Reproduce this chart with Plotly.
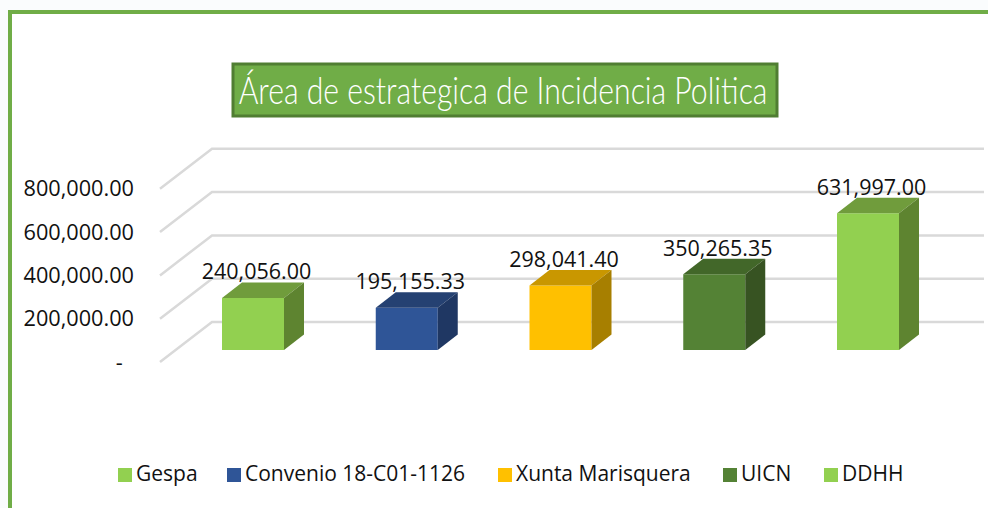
import plotly.graph_objects as go

categories = ["Gespa", "Convenio 18-C01-1126", "Xunta Marisquera", "UICN", "DDHH"]
values = [240056.00, 195155.33, 298041.40, 350265.35, 631997.00]
value_labels = ["240,056.00", "195,155.33", "298,041.40", "350,265.35", "631,997.00"]
tick_values = [0, 200000, 400000, 600000, 800000]
tick_labels = ["-\u00a0\u00a0", "200,000.00", "400,000.00", "600,000.00", "800,000.00"]
front_colors = ["#92d050", "#2f5597", "#ffc000", "#548235", "#92d050"]
top_colors = ["#709c3c", "#254172", "#c99700", "#426729", "#709c3c"]
side_colors = ["#5e8430", "#1f3763", "#a77f00", "#375322", "#5e8430"]
title_text = "Área de estrategica de Incidencia Politica"

W, H = 988, 508
X0_PX, X_STEP = 253.0, 153.75     # pixel centre of the first bar, pixels per category
Y0_PX, Y_SCALE = 362.0, 43.3 / 200000  # pixel of value 0, pixels per value unit


def dx(px):
    return px / X_STEP


def dy(px):
    return px / Y_SCALE


def xp(px):
    return (px - X0_PX) / X_STEP


def yp(px):
    return (Y0_PX - px) / Y_SCALE


FLOOR = dy(12)
BAR_W = 62 / X_STEP
DEPTH_X, DEPTH_Y = dx(20), dy(15.5)

fig = go.Figure()

# front faces
for i, (name, v) in enumerate(zip(categories, values)):
    fig.add_trace(go.Bar(x=[i], y=[v], base=[FLOOR], width=BAR_W, name=name,
                         marker=dict(color=front_colors[i], line=dict(width=0)),
                         showlegend=False, hoverinfo="name+y"))

# top and side faces, projected from the same values
for i, v in enumerate(values):
    left, right = i - BAR_W / 2, i + BAR_W / 2
    top, bottom = FLOOR + v, FLOOR
    fig.add_trace(go.Scatter(
        x=[left, right, right + DEPTH_X, left + DEPTH_X, left],
        y=[top, top, top + DEPTH_Y, top + DEPTH_Y, top],
        fill="toself", fillcolor=top_colors[i], mode="lines", line=dict(width=0),
        showlegend=False, hoverinfo="skip"))
    fig.add_trace(go.Scatter(
        x=[right, right + DEPTH_X, right + DEPTH_X, right, right],
        y=[bottom, bottom + DEPTH_Y, top + DEPTH_Y, top, bottom],
        fill="toself", fillcolor=side_colors[i], mode="lines", line=dict(width=0),
        showlegend=False, hoverinfo="skip"))

# value labels
fig.add_trace(go.Scatter(
    x=[i + dx(3.5) for i in range(len(values))],
    y=[FLOOR + v + dy(24) for v in values],
    text=value_labels, mode="text", textposition="middle center",
    textfont=dict(family="Open Sans", size=21.5, color="#111111"),
    showlegend=False, hoverinfo="skip"))

# legend row
legend_px = [125, 234, 505, 730, 831]
for i, name in enumerate(categories):
    fig.add_trace(go.Scatter(
        x=[xp(legend_px[i])], y=[yp(475)], mode="markers",
        marker=dict(symbol="square", size=14, color=front_colors[i], line=dict(width=0)),
        showlegend=False, hoverinfo="skip"))
    fig.add_trace(go.Scatter(
        x=[xp(legend_px[i] + 11)], y=[yp(476)], text=[name], mode="text",
        textposition="middle right",
        textfont=dict(family="Open Sans", size=21, color="#111111"),
        showlegend=False, hoverinfo="skip"))

# page: faint tinted sheet, green frame, white panel, title box
shapes = [
    dict(type="rect", xref="paper", yref="paper", layer="below",
         x0=10 / W, x1=1.05, y0=-0.05, y1=1 - 12 / H,
         fillcolor="white", line=dict(color="#70ad47", width=4)),
    dict(type="rect", xref="paper", yref="paper", layer="below",
         x0=233 / W, x1=777 / W, y0=1 - 116 / H, y1=1 - 64 / H,
         fillcolor="#70ad47", line=dict(color="#507e32", width=3)),
]

# walls and gridlines
for t in tick_values:
    shapes.append(dict(type="path", xref="x", yref="y", layer="below",
                       path=f"M {xp(160)} {t} L {xp(212)} {t + dy(40)} L {xp(984)} {t + dy(40)}",
                       line=dict(color="#d9d9d9", width=2.5)))

fig.update_layout(
    width=W, height=H, autosize=False,
    margin=dict(l=0, r=0, t=0, b=0),
    paper_bgcolor="#fafcfd", plot_bgcolor="rgba(0,0,0,0)",
    barmode="overlay", showlegend=False, shapes=shapes,
    xaxis=dict(range=[xp(0), xp(W)], visible=False, domain=[0, 1], fixedrange=True),
    yaxis=dict(range=[yp(H), yp(0)], anchor="free", position=134 / W,
               tickmode="array", tickvals=tick_values, ticktext=tick_labels,
               showgrid=False, zeroline=False, showline=False, ticks="", automargin=False,
               tickfont=dict(family="Open Sans", size=21.7, color="#111111"), fixedrange=True),
    annotations=[dict(
        xref="paper", yref="paper", x=503.5 / W, y=1 - 89 / H, xanchor="center", yanchor="middle",
        text=title_text, showarrow=False,
        font=dict(family="Lato", size=38, weight=300, color="white"))],
)

# the page's default margin would push the figure off its canvas; the title face is a
# condensed light cut, which no installed family offers, so the real text is narrowed
post = """
document.body.style.margin = '0';
var s = document.createElement('style');
s.textContent = '.annotation-text{transform-box:fill-box;transform-origin:center;transform:scaleX(0.794);}';
document.head.appendChild(s);
"""
fig.write_html("out.html", config={"displayModeBar": False}, post_script=post)
